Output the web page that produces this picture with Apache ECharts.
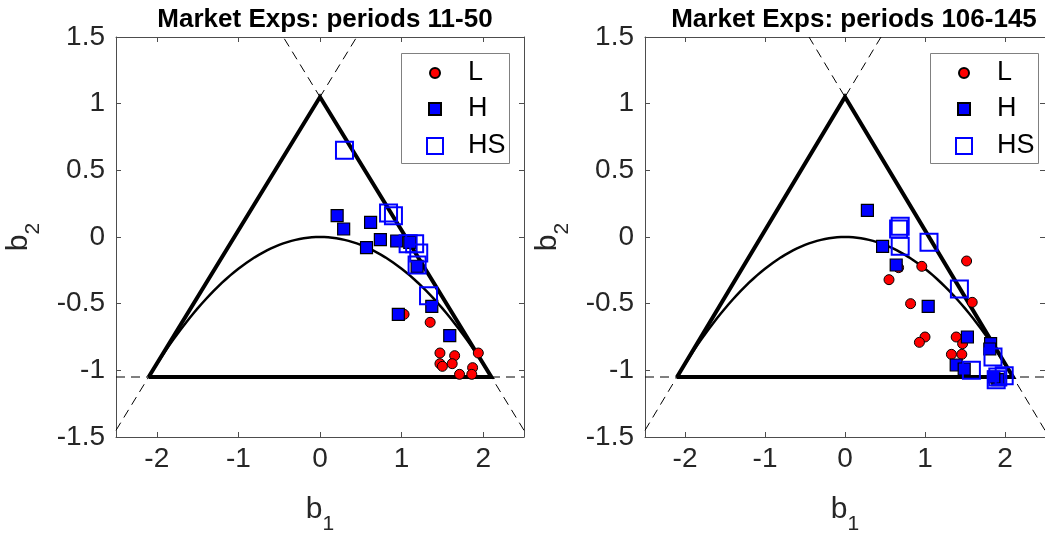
<!DOCTYPE html>
<html>
<head>
<meta charset="utf-8">
<script src="https://cdn.jsdelivr.net/npm/echarts@6/dist/echarts.min.js"></script>
<style>
html,body{margin:0;padding:0;background:#fff;}
#c{width:1045px;height:540px;}
</style>
</head>
<body>
<div id="c"></div>
<script>
// ---- data ----
const titles = ['Market Exps: periods 11-50', 'Market Exps: periods 106-145'];
const seriesNames = ['L', 'H', 'HS'];
const xTicks = [-2, -1, 0, 1, 2];
const yTicks = [-1.5, -1, -0.5, 0, 0.5, 1, 1.5];

// panel 1 (periods 11-50)
const L1 = [[1.03,-0.58],[1.35,-0.64],[1.47,-0.87],[1.65,-0.89],[1.94,-0.87],[1.47,-0.95],[1.50,-0.97],[1.62,-0.95],[1.71,-1.03],[1.87,-0.98],[1.86,-1.03]];
const H1 = [[0.21,0.16],[0.29,0.06],[0.62,0.11],[0.57,-0.08],[0.74,-0.02],[0.94,-0.03],[1.10,-0.04],[1.19,-0.22],[1.37,-0.52],[0.96,-0.58],[1.59,-0.74]];
const HS1 = [[0.30,0.65],[0.84,0.18],[0.90,0.16],[1.08,-0.05],[1.16,-0.05],[1.21,-0.12],[1.19,-0.21],[1.33,-0.44]];

// panel 2 (periods 106-145)
const L2 = [[1.52,-0.18],[0.96,-0.22],[0.55,-0.32],[0.67,-0.23],[0.82,-0.50],[1.59,-0.49],[1.00,-0.75],[0.93,-0.79],[1.39,-0.75],[1.47,-0.80],[1.33,-0.88],[1.46,-0.88]];
const H2 = [[0.28,0.20],[0.47,-0.07],[0.64,-0.21],[1.04,-0.52],[1.53,-0.75],[1.82,-0.80],[1.81,-0.84],[1.39,-0.96],[1.49,-0.99],[1.91,-1.07],[1.86,-1.05]];
const HS2 = [[0.69,0.08],[0.67,0.06],[0.69,-0.07],[1.05,-0.04],[1.43,-0.39],[1.85,-0.90],[1.58,-1.00],[1.91,-1.05],[1.99,-1.04],[1.89,-1.07]];

// boundary region (triangle + parabola + extended edges)
const apex = 1.05;
const halfBase = 2.1;
const triangle = [[-halfBase,-apex],[0,apex],[halfBase,-apex],[-halfBase,-apex]];
const dashLeft = [[-2.5,-1.45],[0.45,1.5]];
const dashRight = [[2.5,-1.45],[-0.45,1.5]];
const dashBase = [[-2.5,-apex],[2.5,-apex]];
function parabola(){
  const pts=[];
  for(let i=0;i<=84;i++){const b1=-halfBase+i*0.05; pts.push([+b1.toFixed(3), -b1*b1/(2*halfBase)]);}
  return pts;
}
const curve = parabola();

const panels = [
  {L:L1,H:H1,HS:HS1,left:116,top:37,width:408,height:409,cx:320},
  {L:L2,H:H2,HS:HS2,left:645,top:37,width:408,height:409,cx:849}
];

const FONT = 'Liberation Sans, Arial, Helvetica, sans-serif';
const TXT = '#262626';
const AX = '#4d4d4d';
const TICKF = 28;

const chart = echarts.init(document.getElementById('c'), null, {renderer:'canvas'});
const option = {
  animation:false,
  textStyle:{fontFamily:FONT},
  title:[], grid:[], xAxis:[], yAxis:[], series:[], legend:[], graphic:[]
};

panels.forEach((p,pi)=>{
  option.grid.push({left:p.left, top:p.top, width:p.width, height:p.height, containLabel:false});
  option.title.push({text:titles[pi], left:p.cx, top:2, textAlign:'center',
    textStyle:{fontFamily:FONT,fontWeight:'bold',fontSize:26,color:'#000'}});
  const xBase = {type:'value', gridIndex:pi, min:-2.5, max:2.5, interval:0.5,
    splitLine:{show:false},
    axisLine:{show:true,onZero:false,lineStyle:{color:AX,width:1}},
    axisTick:{show:true,inside:true,length:5,customValues:xTicks,lineStyle:{color:AX}},
  };
  option.xAxis.push(Object.assign({}, xBase, {position:'bottom',
    axisLabel:{show:true,customValues:xTicks,color:TXT,fontSize:TICKF,margin:8,fontFamily:FONT},
    name:'{b|b}{s|1}', nameLocation:'middle', nameGap:58,
    nameTextStyle:{rich:{b:{fontSize:30,color:TXT,fontFamily:FONT,padding:[0,0,10,0],verticalAlign:'bottom'},
                         s:{fontSize:21,color:TXT,fontFamily:FONT,verticalAlign:'bottom'}}}
  }));
  option.xAxis.push(Object.assign({}, xBase, {position:'top', axisLabel:{show:false}}));
  const yBase = {type:'value', gridIndex:pi, min:-1.5, max:1.5, interval:0.5,
    splitLine:{show:false},
    axisLine:{show:true,onZero:false,lineStyle:{color:AX,width:1}},
    axisTick:{show:true,inside:true,length:5,lineStyle:{color:AX}},
  };
  option.yAxis.push(Object.assign({}, yBase, {position:'left',
    axisLabel:{show:true,color:TXT,fontSize:TICKF,margin:11,fontFamily:FONT},
    name:'{b|b}{s|2}', nameLocation:'middle', nameGap:72,
    nameTextStyle:{rich:{b:{fontSize:30,color:TXT,fontFamily:FONT,padding:[0,0,10,0],verticalAlign:'bottom'},
                         s:{fontSize:21,color:TXT,fontFamily:FONT,verticalAlign:'bottom'}}}
  }));
  option.yAxis.push(Object.assign({}, yBase, {position:'right', axisLabel:{show:false}}));

  const xi = pi*2, yi = pi*2;
  const lineS = (data, w, dashed) => ({type:'line', xAxisIndex:xi, yAxisIndex:yi, data, symbol:'none',
    silent:true, animation:false, clip:true,
    lineStyle:{color:'#000', width:w, type: dashed ? [9,6] : 'solid', join:'miter', cap:'butt'}, z:1});
  option.series.push(lineS(dashLeft,1,true), lineS(dashRight,1,true), lineS(dashBase,1,true));
  option.series.push(lineS(triangle,4,false));
  option.series.push(Object.assign(lineS(curve,2.5,false),{smooth:false}));

  option.series.push({type:'scatter', name:'L', xAxisIndex:xi, yAxisIndex:yi, data:p.L,
    symbol:'circle', symbolSize:10, z:3,
    itemStyle:{color:'#ff0000', borderColor:'#000', borderWidth:1, opacity:1}});
  option.series.push({type:'scatter', name:'H', xAxisIndex:xi, yAxisIndex:yi, data:p.H,
    symbol:'rect', symbolSize:12, z:4,
    itemStyle:{color:'#0000ff', borderColor:'#000', borderWidth:1.2, opacity:1}});
  option.series.push({type:'scatter', name:'HS', xAxisIndex:xi, yAxisIndex:yi, data:p.HS,
    symbol:'rect', symbolSize:17, z:5,
    itemStyle:{color:'rgba(0,0,0,0)', borderColor:'#0000ff', borderWidth:2, opacity:1}});

  // legend box and entries
  const bx = p.left + 285, by = 53;
  option.graphic.push({type:'rect', left:bx, top:by, z:10,
    shape:{width:108,height:110}, style:{fill:'#fff', stroke:'#808080', lineWidth:1}});
  const mx = bx + 33, tx = bx + 66;
  const rows = [73,109,146];
  const sizes = [10,12,16];
  seriesNames.forEach((nm,k)=>{
    const w = sizes[k];
    option.legend.push({data:[nm], orient:'vertical', left:mx - w/2, top:rows[k]-15, padding:0,
      itemWidth:w, itemHeight:w, selectedMode:false, z:20,
      textStyle:{fontFamily:FONT,fontSize:27,color:'#000',lineHeight:30, padding:[0,0,0, tx - (mx + w/2 + 5)]}});
  });
});

chart.setOption(option);
</script>
</body>
</html>
